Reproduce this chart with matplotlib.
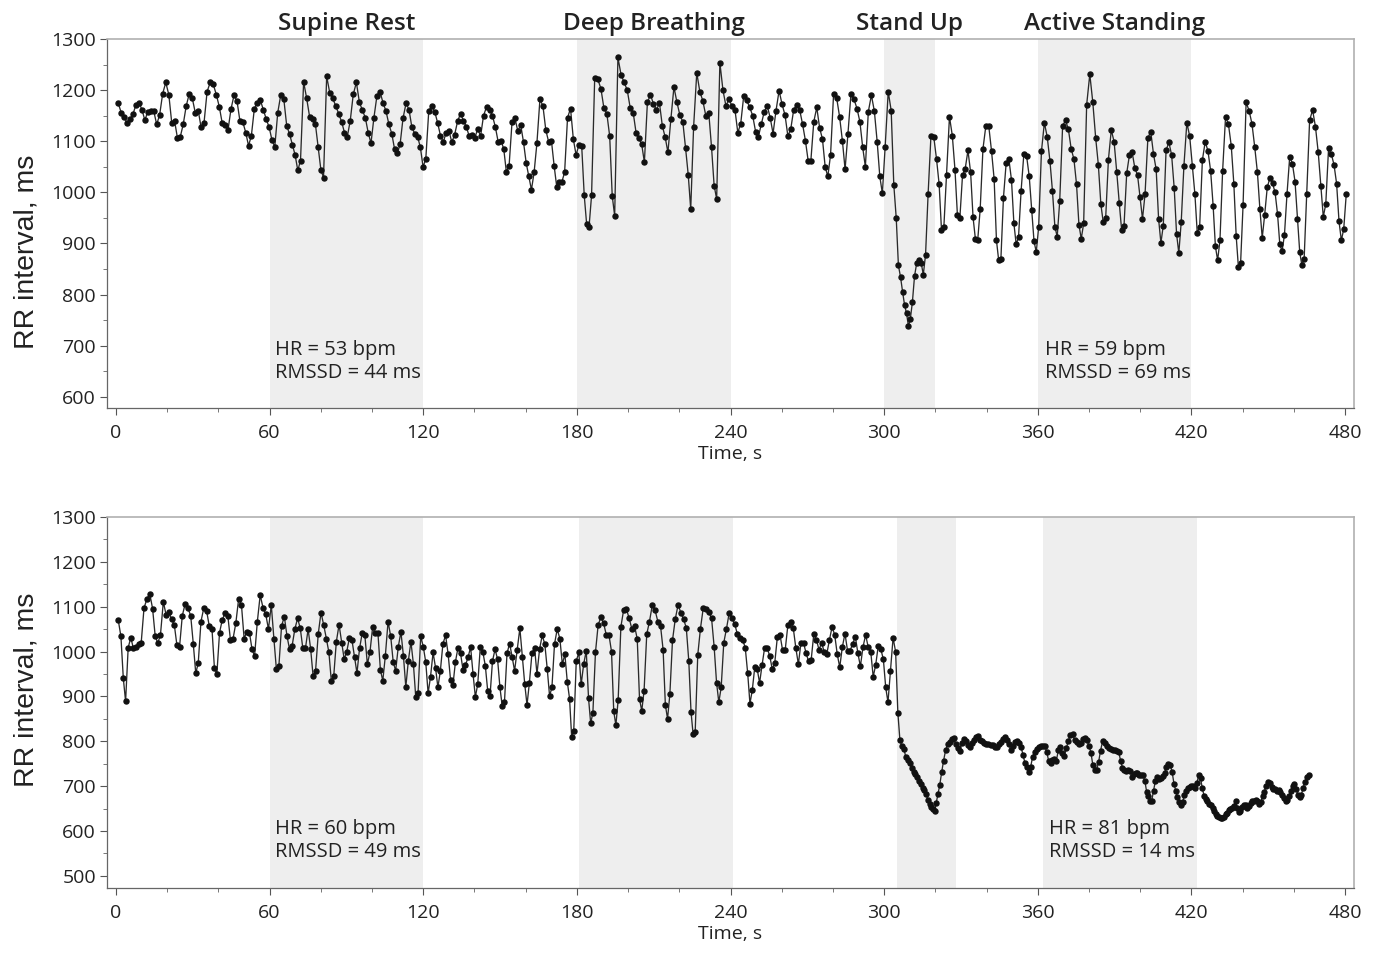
import numpy as np
import matplotlib
matplotlib.use("Agg")
import matplotlib.pyplot as plt
from matplotlib.ticker import MultipleLocator
from matplotlib.transforms import blended_transform_factory

# ---------------- data ----------------
top_rr = [
    1174,1156,1148,1135,1143,1153,1171,1175,1162,1141,
    1158,1160,1159,1133,1151,1193,1215,1191,1136,1139,
    1106,1109,1133,1169,1193,1184,1156,1160,1127,1136,
    1197,1215,1211,1191,1167,1135,1132,1122,1163,1190,
    1178,1139,1137,1117,1091,1111,1164,1175,1180,1161,
    1143,1127,1102,1089,1156,1191,1182,1130,1114,1093,
    1073,1043,1062,1216,1184,1148,1143,1133,1088,1044,
    1029,1227,1195,1184,1169,1154,1138,1117,1109,1140,
    1192,1215,1176,1161,1146,1117,1096,1146,1189,1197,
    1175,1159,1133,1115,1085,1076,1094,1145,1174,1162,
    1127,1115,1109,1088,1050,1065,1159,1169,1158,1136,
    1111,1098,1117,1120,1098,1113,1139,1154,1140,1128,
    1110,1113,1107,1124,1110,1150,1167,1162,1150,1128,
    1099,1101,1085,1039,1052,1137,1145,1120,1132,1098,
    1057,
    1031,1005,1039,1096,1182,1169,1122,1099,1101,1052,
    1011,1021,1021,1039,1146,1164,1104,1073,1093,1091,
    994,938,932,994,1224,1221,1203,1165,1154,1110,
    993,954,1264,1230,1215,1200,1165,1156,1117,1106,
    1094,1059,1176,1191,1173,1161,1175,1130,1108,1078,
    1143,1206,1176,1151,1138,1086,1034,967,1128,1234,
    1197,1179,1150,1156,1088,1013,987,1254,1200,1169,
    1182,
    1169,1162,1117,1134,1189,1180,1166,1150,1119,1109,
    1133,1158,1169,1146,1115,1160,1199,1172,1151,1110,
    1124,1162,1171,1161,1133,1101,1062,1062,1138,1166,
    1126,1104,1050,1031,1073,1193,1185,1148,1101,1045,
    1114,1193,1182,1164,1138,1088,1050,1158,1190,1159,
    1099,1031,998,1089,1197,1160,1015,950,857,834,
    805,779,763,738,753,785,836,862,868,862,
    839,878,997,1111,
    1108,1065,1016,926,933,1033,1148,1111,1044,955,
    950,1033,1046,1082,1039,951,909,906,967,1085,
    1130,1130,1081,1026,906,867,870,989,1057,1065,
    1024,939,898,913,1003,1075,1071,1031,966,904,
    883,933,1080,1136,1109,1062,1002,933,913,983,
    1130,1141,1123,1085,1065,1016,937,909,939,1171,
    1231,1176,1107,1054,977,941,950,1064,1122,1099,
    1039,979,926,935,1037,1073,1078,1047,1034,
    991,948,996,1106,1119,1075,1045,948,901,935,
    1082,1098,1073,1008,919,881,942,1052,1136,1110,
    1052,996,920,933,1063,1099,1081,1042,974,894,
    867,906,1042,1148,1133,1091,1016,914,854,861,
    976,1176,1160,1134,1088,1039,967,911,956,1010,
    1028,1018,1000,958,898,885,916,996,1070,1056,
    1021,948,883,857,870,997,1141,1161,1128,1078,
    1013,952,977,1086,1075,1054,1017,943,906,928,
    997,
]

bottom_rr = [
    1070,1034,940,889,1009,1031,1007,1011,1017,1020,
    1097,1117,1129,1096,1034,1019,1038,1111,1082,1088,
    1072,1059,1014,1010,1080,1106,1097,1080,1017,952,
    974,1067,1097,1091,1057,1051,963,950,1042,1071,
    1085,1080,1026,1029,1063,1118,1103,1029,1044,1042,
    1005,990,1066,1126,1098,1083,1050,1104,1028,961,
    967,1057,1078,1035,1005,1013,1050,1074,1052,1007,
    1007,1050,1005,945,957,1039,
    1087,1059,1029,998,935,945,1022,1060,1020,983,
    1000,1030,1025,987,952,1007,1041,1036,972,998,
    1054,1041,1041,959,935,990,1067,1034,977,957,
    1010,1044,990,921,979,1022,972,899,907,1034,
    1011,976,907,944,998,964,920,957,1018,1036,
    994,937,925,977,1009,996,959,970,987,1010,
    950,899,927,1010,999,968,913,900,979,1005,
    983,920,879,887,996,1018,988,957,1004,1052,
    987,927,
    881,931,996,1009,950,1005,1036,1017,961,901,
    920,1017,1050,1029,972,994,933,895,810,824,
    979,998,927,972,1002,896,840,864,998,1060,
    1076,1063,1037,1037,1000,867,836,892,1055,1093,
    1094,1074,1050,1057,1028,894,868,913,1039,1067,
    1104,1092,1067,1057,1004,881,850,905,1025,1072,
    1104,1087,1072,1053,979,866,816,821,992,1051,
    1097,1094,1088,1074,1010,931,887,920,1020,1051,
    1087,1074,1061,1039,1031,1026,1009,952,884,914,
    965,961,930,970,1009,1007,990,961,974,1033,
    1037,1003,1003,1059,1067,1052,1007,972,1020,1019,
    996,978,981,1040,1026,1004,1020,999,994,1025,
    1055,1037,994,965,1010,1040,1002,1002,1018,1033,
    996,967,1010,1037,1010,999,944,970,1013,1005,
    983,920,887,957,1031,999,864,803,789,783,
    764,759,751,740,731,727,720,712,704,
    697,691,682,670,660,653,648,645,663,683,
    703,731,757,780,793,799,806,807,795,785,
    779,797,806,800,791,787,796,803,810,812,
    804,800,796,794,794,792,792,788,788,794,
    799,806,810,804,795,780,790,798,801,796,
    788,769,752,742,732,743,765,777,782,787,
    790,790,790,777,757,752,759,760,757,780,
    788,774,768,784,801,815,816,804,798,794,
    797,805,808,803,790,775,747,737,737,753,
    779,800,797,789,786,783,781,781,779,777,
    757,741,737,734,737,733,720,
    728,730,729,725,725,724,712,688,678,668,
    668,690,711,720,716,719,722,730,743,749,
    747,731,705,690,675,664,659,664,680,690,
    697,699,700,700,695,706,726,718,695,679,
    672,668,660,657,652,644,638,634,631,629,
    629,631,637,641,646,650,652,656,666,652,
    643,644,653,658,657,652,656,662,667,666,
    670,668,661,665,677,688,700,709,708,699,
    694,693,690,691,687,680,674,668,670,677,
    690,701,705,694,681,676,681,696,709,720,
    725,
]

top_start = 0.9      # time of first beat, s
bottom_start = 0.9

phase_names = ["Supine Rest", "Deep Breathing", "Stand Up", "Active Standing"]
top_windows = [(60, 120), (180, 240), (300, 320), (360, 420)]
bottom_windows = [(60, 120), (181, 241), (305, 328), (362, 422)]

top_stats = [("HR = 53 bpm", "RMSSD = 44 ms"), ("HR = 59 bpm", "RMSSD = 69 ms")]
bottom_stats = [("HR = 60 bpm", "RMSSD = 49 ms"), ("HR = 81 bpm", "RMSSD = 14 ms")]
stats_x_top = [62, 363]
stats_x_bottom = [62, 364.5]

x_ticks = [0, 60, 120, 180, 240, 300, 360, 420, 480]
top_yticks = [600, 700, 800, 900, 1000, 1100, 1200, 1300]
bottom_yticks = [500, 600, 700, 800, 900, 1000, 1100, 1200, 1300]

# ---------------- figure ----------------
W, H = 1375, 958
fig = plt.figure(figsize=(W / 100, H / 100), dpi=100)
fig.patch.set_facecolor("white")

UI_FONT = ["Open Sans", "DejaVu Sans"]
LABEL_FONT = ["Liberation Sans", "DejaVu Sans"]


def px_axes(x0, y0, x1, y1):
    return fig.add_axes([x0 / W, 1 - y1 / H, (x1 - x0) / W, (y1 - y0) / H])


def beat_times(rr, start):
    rr = np.asarray(rr, dtype=float)
    return start + (np.cumsum(rr) - rr[0]) / 1000.0


def draw_panel(ax, rr, start, windows, stats, stats_x, stats_y, yticks, ylim, label_phases):
    ax.set_xlim(-3.5, 483.5)
    ax.set_ylim(*ylim)
    for (a, b) in windows:
        ax.axvspan(a, b, color="#eeeeee", lw=0, zorder=0)
    t = beat_times(rr, start)
    ax.plot(t, rr, color="#2a2a2a", lw=0.95, marker="o", ms=3.6,
            mfc="#111111", mec="#111111", zorder=3)
    ax.set_xticks(x_ticks)
    ax.set_yticks(yticks)
    ax.xaxis.set_minor_locator(MultipleLocator(20))
    ax.yaxis.set_minor_locator(MultipleLocator(50))
    ax.tick_params(axis="both", which="major", labelsize=14, length=5,
                   width=0.8, color="#555555", labelcolor="#222222")
    ax.tick_params(axis="x", which="major", pad=6.5)
    ax.tick_params(axis="y", which="major", pad=3)
    ax.tick_params(axis="both", which="minor", length=3, width=0.7, color="#777777")
    for lab in ax.get_xticklabels() + ax.get_yticklabels():
        lab.set_family(UI_FONT)
    for side in ["left", "bottom"]:
        ax.spines[side].set_color("#666666")
        ax.spines[side].set_linewidth(0.9)
    for side in ["top", "right"]:
        ax.spines[side].set_color("#b0b0b0")
        ax.spines[side].set_linewidth(1.2)
    ax.set_xlabel("Time, s", fontsize=14, family=UI_FONT, color="#222222", labelpad=2)
    for (l1, l2), sx in zip(stats, stats_x):
        ax.text(sx, stats_y[0], l1, fontsize=14.5, family=UI_FONT, color="#222222",
                ha="left", va="center")
        ax.text(sx, stats_y[1], l2, fontsize=14.5, family=UI_FONT, color="#222222",
                ha="left", va="center")
    if label_phases:
        tr = blended_transform_factory(ax.transData, ax.transAxes)
        for name, (a, b) in zip(phase_names, windows):
            ax.annotate(name, xy=((a + b) / 2, 1.0), xycoords=tr,
                        xytext=(0, 10.5), textcoords="offset points",
                        ha="center", va="center", fontsize=17.5,
                        family=UI_FONT, fontweight="semibold", color="#222222")


ax1 = px_axes(107, 39, 1354, 408)
draw_panel(ax1, top_rr, top_start, top_windows, top_stats, stats_x_top,
           (692, 647), top_yticks, (578, 1300), True)

ax2 = px_axes(107, 517, 1354, 888)
draw_panel(ax2, bottom_rr, bottom_start, bottom_windows, bottom_stats, stats_x_bottom,
           (605, 554), bottom_yticks, (473, 1300), False)

fig.text(27 / W, 1 - 252 / H, "RR interval, ms", rotation=90, ha="center", va="center",
         fontsize=20.5, family=LABEL_FONT, color="#222222")
fig.text(27 / W, 1 - 690 / H, "RR interval, ms", rotation=90, ha="center", va="center",
         fontsize=20.5, family=LABEL_FONT, color="#222222")

fig.savefig("out.png", dpi=100, facecolor="white")
